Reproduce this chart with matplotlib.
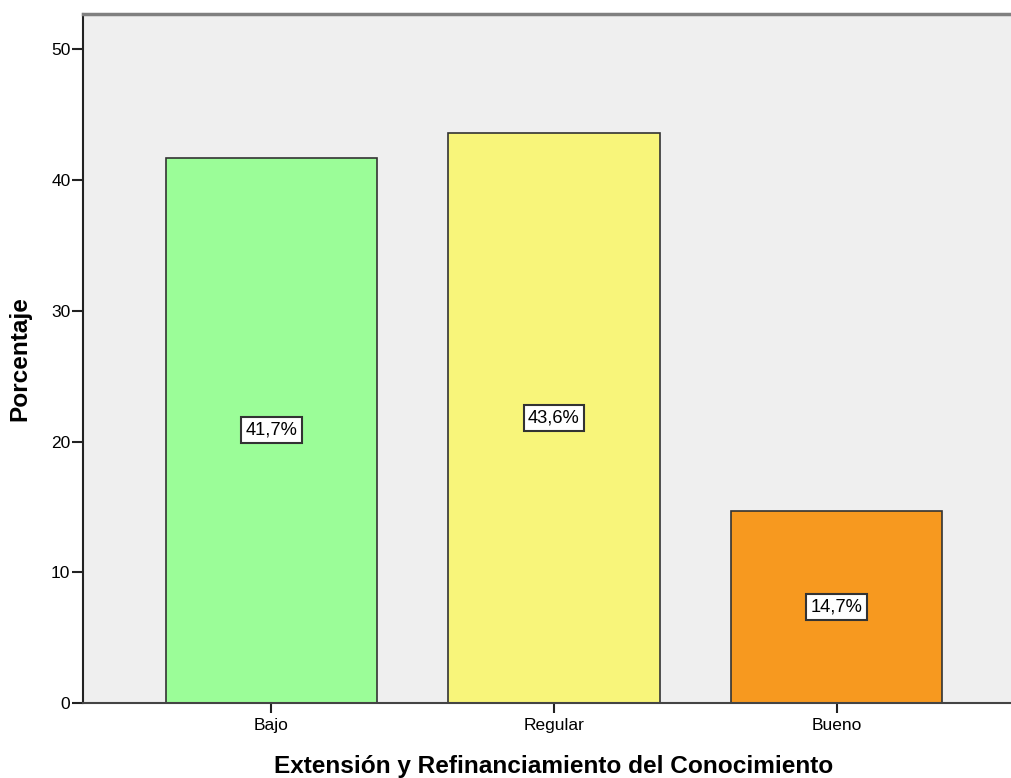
import matplotlib.pyplot as plt
import numpy as np

# datos del grafico
categorias = ["Bajo", "Regular", "Bueno"]
porcentajes = [41.7, 43.6, 14.7]
etiquetas = ["41,7%", "43,6%", "14,7%"]
colores = ["#9bfd98", "#f8f57a", "#f7991f"]
yticks = [0, 10, 20, 30, 40, 50]

plt.rcParams['font.family'] = ['Liberation Sans', 'DejaVu Sans']

fig = plt.figure(figsize=(10.12, 7.78), dpi=100)
ax = fig.add_axes([0.082, 0.0964, 0.918, 0.8856])
ax.set_facecolor("#efefef")

x = np.arange(len(categorias))
barras = ax.bar(x, porcentajes, width=0.747, color=colores, edgecolor="#333333", linewidth=1.2, zorder=2)

for xi, val, txt in zip(x, porcentajes, etiquetas):
    ax.text(xi, val / 2, txt, ha="center", va="center", fontsize=13.2, zorder=3,
            bbox=dict(boxstyle="square,pad=0.25", facecolor="white", edgecolor="#333333", linewidth=1.5))

ax.set_xlim(-0.667, 2.621)
ax.set_ylim(0, 52.7)
ax.set_xticks(x)
ax.set_xticklabels(categorias, fontsize=12.5)
ax.set_yticks(yticks)
ax.tick_params(axis="y", labelsize=12.5, length=8, width=1.5, color="#222222", pad=1)
ax.tick_params(axis="x", length=7, width=1.5, color="#222222", pad=4)

ax.spines["right"].set_visible(False)
ax.spines["top"].set_color("#808080")
ax.spines["top"].set_linewidth(2.5)
ax.spines["left"].set_color("#222222")
ax.spines["left"].set_linewidth(1.5)
ax.spines["bottom"].set_color("#444444")
ax.spines["bottom"].set_linewidth(1.5)

# titulos de ejes colocados a mano
fig.text(553.5 / 1012, 1 - 773 / 778, "Extensión y Refinanciamiento del Conocimiento",
         ha="center", va="baseline", fontsize=17.6, fontweight="bold")
fig.text(20 / 1012, 1 - 358.5 / 778, "Porcentaje", ha="center", va="center",
         rotation=90, fontsize=17.6, fontweight="bold")

plt.savefig("out.png", dpi=100)
